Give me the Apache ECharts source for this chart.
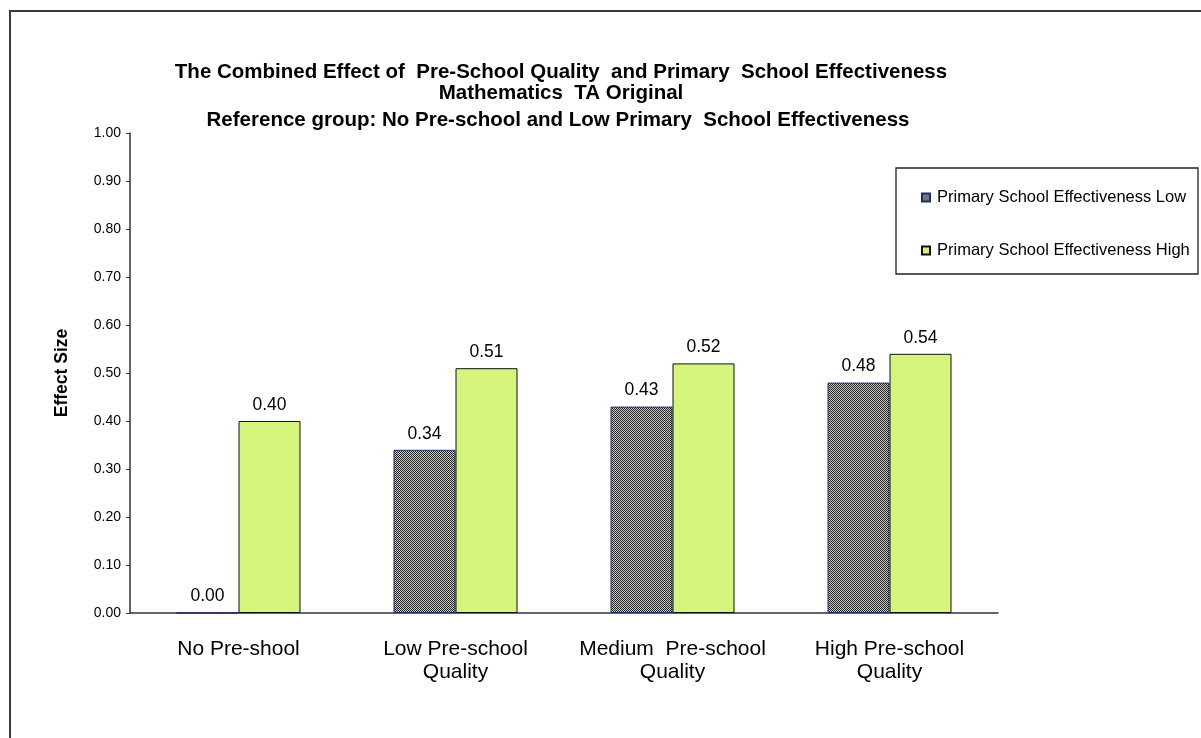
<!DOCTYPE html>
<html>
<head>
<meta charset="utf-8">
<script src="https://cdn.jsdelivr.net/npm/echarts@6/dist/echarts.min.js"></script>
<style>html,body{margin:0;padding:0;background:#fff;}#c{width:1201px;height:738px;}</style>
</head>
<body>
<div id="c"></div>
<script>
const categories = ['No Pre-shool', 'Low Pre-school\nQuality', 'Medium  Pre-school\nQuality', 'High Pre-school\nQuality'];
const seriesNames = ['Primary School Effectiveness Low', 'Primary School Effectiveness High'];
const lowValues = [0.00, 0.34, 0.43, 0.48];
const highValues = [0.40, 0.51, 0.52, 0.54];
const titleLines = ['The Combined Effect of  Pre-School Quality  and Primary  School Effectiveness', 'Mathematics  TA Original', 'Reference group: No Pre-school and Low Primary  School Effectiveness'];
const yTicks = {min: 0, max: 1, interval: 0.1};

const pc = document.createElement('canvas');
pc.width = 2; pc.height = 2;
const pctx = pc.getContext('2d');
pctx.fillStyle = '#c8c8c8'; pctx.fillRect(0, 0, 2, 2);
pctx.fillStyle = '#262626'; pctx.fillRect(0, 0, 1, 1); pctx.fillRect(1, 1, 1, 1);

const FONT = '"Liberation Sans", Arial, sans-serif';
const chart = echarts.init(document.getElementById('c'));
chart.setOption({
  animation: false,
  backgroundColor: '#fff',
  textStyle: {fontFamily: FONT},
  grid: {left: 130, top: 133, right: 203, bottom: 125, containLabel: false},
  graphic: [
    {type: 'rect', shape: {x: 10, y: 11, width: 1300, height: 900}, style: {fill: 'none', stroke: '#3a3a3a', lineWidth: 2}, silent: true},
    {type: 'rect', shape: {x: 896, y: 168, width: 302, height: 106}, style: {fill: '#fff', stroke: '#222', lineWidth: 1.3}, z: -1, silent: true},
    {type: 'text', x: 561, y: 72, style: {text: titleLines[0], textAlign: 'center', textVerticalAlign: 'middle', font: 'bold 20.5px ' + FONT, fill: '#000'}},
    {type: 'text', x: 561, y: 93, style: {text: titleLines[1], textAlign: 'center', textVerticalAlign: 'middle', font: 'bold 20.5px ' + FONT, fill: '#000'}},
    {type: 'text', x: 558, y: 120, style: {text: titleLines[2], textAlign: 'center', textVerticalAlign: 'middle', font: 'bold 20.5px ' + FONT, fill: '#000'}}
  ],
  legend: {
    orient: 'vertical',
    left: 921, top: 189,
    icon: 'rect',
    itemWidth: 8, itemHeight: 8, itemGap: 36,
    padding: 0,
    textStyle: {fontSize: 16.5, color: '#000', fontFamily: FONT, padding: [0, 0, 0, 2]},
    data: seriesNames
  },
  xAxis: {
    type: 'category',
    data: categories,
    axisLine: {lineStyle: {color: '#333', width: 1.5}},
    axisTick: {show: false},
    axisLabel: {fontSize: 21, color: '#000', margin: 25, lineHeight: 23, interval: 0}
  },
  yAxis: {
    type: 'value',
    min: yTicks.min, max: yTicks.max, interval: yTicks.interval,
    name: 'Effect Size', nameLocation: 'middle', nameGap: 59,
    nameTextStyle: {fontSize: 17.5, fontWeight: 'bold', color: '#000'},
    splitLine: {show: false},
    axisLine: {show: true, lineStyle: {color: '#333', width: 1.5}},
    axisTick: {show: true, length: 4, lineStyle: {color: '#333'}},
    axisLabel: {fontSize: 14, color: '#000', margin: 9, formatter: v => v.toFixed(2)}
  },
  series: [
    {
      name: seriesNames[0], type: 'bar', data: lowValues,
      barWidth: 62, barGap: '0%',
      itemStyle: {color: {image: pc, repeat: 'repeat'}, borderColor: '#1f2f66', borderWidth: 1},
      label: {show: true, position: 'top', distance: 7, fontSize: 17.5, color: '#000', formatter: p => p.value.toFixed(2)}
    },
    {
      name: seriesNames[1], type: 'bar', data: highValues,
      barWidth: 62, barGap: '0%',
      itemStyle: {color: '#d4f47c', borderColor: '#111', borderWidth: 1},
      label: {show: true, position: 'top', distance: 7, fontSize: 17.5, color: '#000', formatter: p => p.value.toFixed(2)}
    }
  ]
});
</script>
</body>
</html>
